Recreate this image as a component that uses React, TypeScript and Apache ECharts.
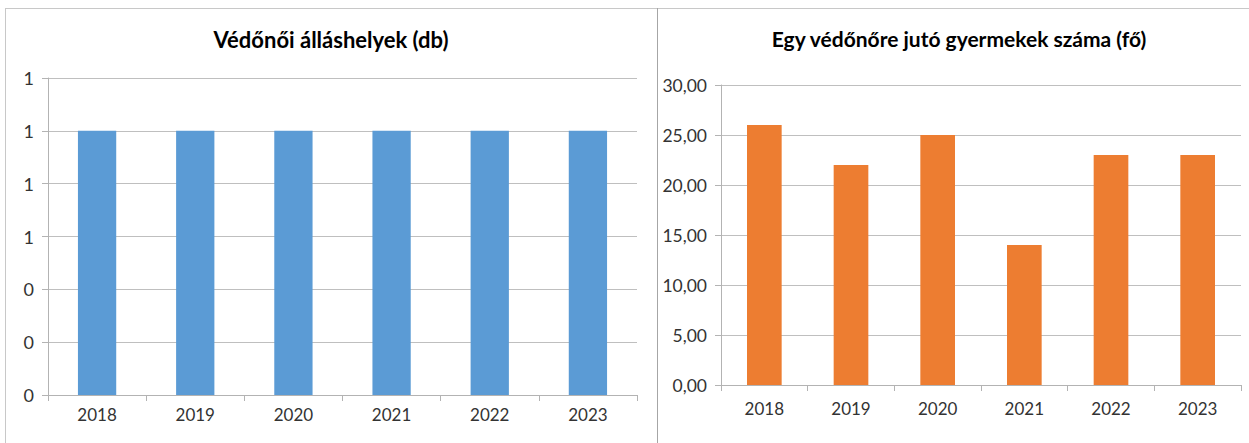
import React, { useEffect, useRef } from "react";
import * as echarts from "echarts";

const years = ["2018", "2019", "2020", "2021", "2022", "2023"];
const posts = [1, 1, 1, 1, 1, 1];
const childrenPerNurse = [26, 22, 25, 14, 23, 23];
const leftTitle = "Védőnői álláshelyek (db)";
const rightTitle = "Egy védőnőre jutó gyermekek száma (fő)";

const FONT = "Lato, 'Open Sans', sans-serif";
const GRID_COLOR = "#BFBFBF";
const AXIS_COLOR = "#B3B3B3";
const LABEL_COLOR = "#333333";

export default function App() {
  const ref = useRef<HTMLDivElement>(null);
  useEffect(() => {
    if (!ref.current) return;
    const chart = echarts.init(ref.current, undefined, { renderer: "svg" });
    const axisCommon = {
      axisLine: { show: true, lineStyle: { color: AXIS_COLOR, width: 1 } },
      axisTick: { show: true, length: 6, lineStyle: { color: AXIS_COLOR } },
      axisLabel: { color: LABEL_COLOR, fontFamily: FONT, fontSize: 17 },
    };
    chart.setOption({
      animation: false,
      backgroundColor: "#ffffff",
      graphic: [
        { type: "line", shape: { x1: 5, y1: 8.5, x2: 1249, y2: 8.5 }, style: { stroke: "#C8C8C8", lineWidth: 1 } },
        { type: "line", shape: { x1: 5.5, y1: 8, x2: 5.5, y2: 443 }, style: { stroke: "#C8C8C8", lineWidth: 1 } },
        { type: "line", shape: { x1: 657.5, y1: 8, x2: 657.5, y2: 443 }, style: { stroke: "#A6A6A6", lineWidth: 1 } },
        {
          type: "text",
          x: 331,
          y: 39,
          style: { text: leftTitle, font: `bold 22px ${FONT}`, fill: "#000000", textAlign: "center", textVerticalAlign: "middle" },
        },
        {
          type: "text",
          x: 959,
          y: 38,
          style: { text: rightTitle, font: `bold 21px ${FONT}`, fill: "#000000", textAlign: "center", textVerticalAlign: "middle" },
        },
      ],
      grid: [
        { left: 48, right: 1249 - 637, top: 78, bottom: 443 - 395, containLabel: false },
        { left: 721, right: 1249 - 1241, top: 85, bottom: 443 - 385, containLabel: false },
      ],
      xAxis: [
        {
          type: "category",
          gridIndex: 0,
          data: years,
          ...axisCommon,
          axisLabel: { ...axisCommon.axisLabel, margin: 11 },
        },
        {
          type: "category",
          gridIndex: 1,
          data: years,
          ...axisCommon,
          axisLabel: { ...axisCommon.axisLabel, margin: 15 },
        },
      ],
      yAxis: [
        {
          type: "value",
          gridIndex: 0,
          min: 0,
          max: 1.2,
          interval: 0.2,
          ...axisCommon,
          axisLabel: {
            ...axisCommon.axisLabel,
            fontSize: 18,
            margin: 14,
            formatter: (v: number) => String(Math.round(v + 1e-9)),
          },
          splitLine: { show: true, lineStyle: { color: GRID_COLOR, width: 1 } },
        },
        {
          type: "value",
          gridIndex: 1,
          min: 0,
          max: 30,
          interval: 5,
          ...axisCommon,
          axisLabel: {
            ...axisCommon.axisLabel,
            fontSize: 17.5,
            margin: 14,
            formatter: (v: number) => v.toFixed(2).replace(".", ","),
          },
          splitLine: { show: true, lineStyle: { color: GRID_COLOR, width: 1 } },
        },
      ],
      series: [
        {
          type: "bar",
          xAxisIndex: 0,
          yAxisIndex: 0,
          data: posts,
          barWidth: "39%",
          itemStyle: { color: "#5B9BD5" },
        },
        {
          type: "bar",
          xAxisIndex: 1,
          yAxisIndex: 1,
          data: childrenPerNurse,
          barWidth: "40%",
          itemStyle: { color: "#ED7D31" },
        },
      ],
    });
    return () => chart.dispose();
  }, []);
  return (
    <div
      ref={ref}
      style={{ position: "fixed", left: 0, top: 0, width: 1249, height: 443, background: "#fff" }}
    />
  );
}
